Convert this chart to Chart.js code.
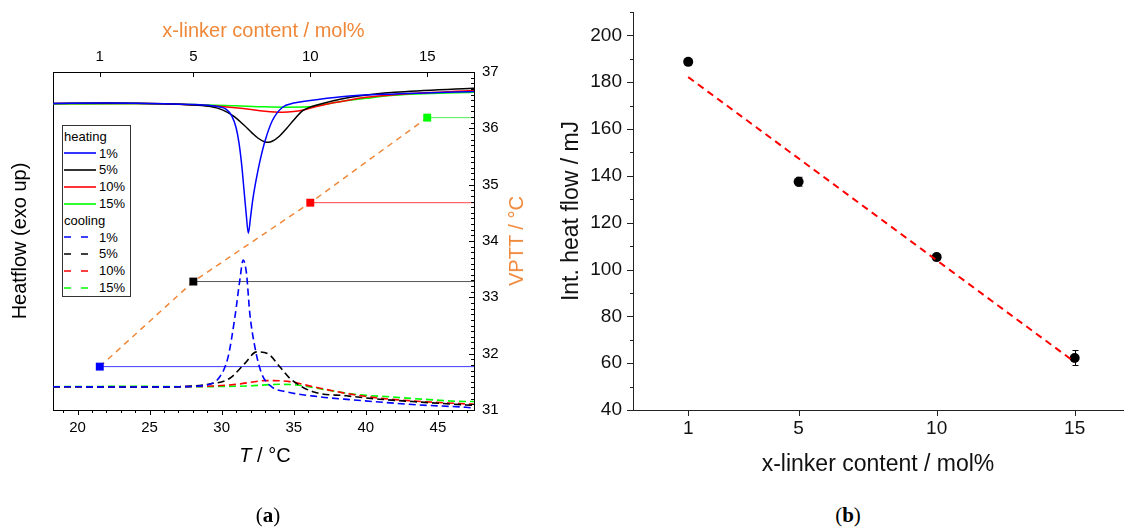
<!DOCTYPE html>
<html>
<head>
<meta charset="utf-8">
<script src="https://cdn.jsdelivr.net/npm/chart.js@4.4.1/dist/chart.umd.min.js"></script>
<style>
  body { margin: 0; background: #fff; width: 1128px; height: 528px; position: relative; overflow: hidden;
         font-family: 'Liberation Sans', Arial, sans-serif; color: #000; }
  canvas { position: absolute; top: 0; }
  #chartA { left: 0; }
  #chartB { left: 560px; }
  .lbl { position: absolute; white-space: nowrap; line-height: 1; }
  #legendA { position: absolute; left: 62px; top: 125px; width: 67px; padding-top: 2px; border: 1px solid #333;
             font-size: 13px; background: #fff; }
  #legendA .row { height: 16.8px; display: flex; align-items: center; }
  #legendA svg { margin-left: 1px; margin-right: 3px; }
  #legendA .head { padding-left: 1px; }
  .panel { font-family: 'Liberation Serif', 'DejaVu Serif', serif; font-size: 21px; transform: translate(-50%, -50%); }
</style>
</head>
<body>
<canvas id="chartA" width="560" height="480"></canvas>
<canvas id="chartB" width="568" height="480"></canvas>
<div id="legendA"></div>
<div class="lbl" style="left:265px;top:455px;font-size:20px;transform:translate(-50%,-50%)"><i>T</i> / °C</div>
<div class="lbl" id="vpttTitle" style="left:516px;top:241px;font-size:20px;color:#f0883a;transform:translate(-50%,-50%) rotate(-90deg)">VPTT / °C</div>
<div class="lbl panel" style="left:268px;top:515px">(<b>a</b>)</div>
<div class="lbl panel" style="left:848px;top:515px">(<b>b</b>)</div>
<script>
// ---- panel (a): DSC curves, T in °C, heat flow in arbitrary units (exo up)
const contentLabels = ["1%", "5%", "10%", "15%"];
const seriesColors = ["#0000ff", "#000000", "#ff0000", "#00ff00"];
const vpttLineColors = ["#3d3dff", "#555555", "#ff4444", "#55ee55"];
const orange = "#f0883a";

const heatT1 = [18.3, 22, 26, 28.5, 29.8, 30.3, 30.7, 31.0, 31.2, 31.4, 31.55, 31.7, 31.85, 32.0, 32.15, 32.3, 32.5, 32.7, 33.0, 33.5, 34.2, 35.0, 36.0, 38.3, 42.0, 47.5];
const heatH1 = [9.07, 9.08, 9.06, 9.03, 8.97, 8.9, 8.7, 8.35, 7.9, 7.2, 6.5, 5.8, 5.23, 5.7, 6.2, 6.6, 7.05, 7.45, 7.95, 8.55, 8.95, 9.08, 9.15, 9.27, 9.35, 9.42];
const heatT5 = [18.3, 22, 26, 28.06, 29.3, 30.05, 30.8, 31.54, 32.1, 32.53, 33.0, 33.23, 33.5, 34.0, 34.5, 35.0, 35.6, 36.2, 37.0, 38.3, 39.5, 42.0, 47.5];
const heatH5 = [9.07, 9.08, 9.06, 9.02, 8.97, 8.88, 8.7, 8.43, 8.2, 8.04, 7.93, 7.92, 7.95, 8.1, 8.33, 8.58, 8.85, 8.97, 9.07, 9.2, 9.29, 9.40, 9.52];
const heatT10 = [18.3, 24, 28.0, 30.0, 31.5, 33.0, 34.2, 35.0, 35.9, 36.5, 37.5, 38.3, 40.0, 42.0, 47.5];
const heatH10 = [9.07, 9.07, 9.03, 8.98, 8.92, 8.84, 8.81, 8.83, 8.9, 8.97, 9.07, 9.13, 9.25, 9.33, 9.45];
const heatT15 = [18.3, 24, 28, 31, 33, 34.5, 36.0, 37.5, 38.3, 40, 42, 47.5];
const heatH15 = [9.05, 9.06, 9.04, 9.0, 8.97, 8.96, 8.97, 9.07, 9.13, 9.22, 9.31, 9.40];

const coolT1 = [18.3, 24, 27.1, 28.96, 29.88, 30.45, 30.92, 31.26, 31.49, 31.72, 31.95, 32.3, 32.76, 33.45, 34.49, 36.8, 39.1, 41.41, 43.72, 46.95, 47.5];
const coolH1 = [0.69, 0.68, 0.69, 0.74, 0.99, 1.58, 2.76, 3.85, 4.44, 4.04, 2.86, 1.87, 1.09, 0.69, 0.54, 0.39, 0.30, 0.22, 0.15, 0.08, 0.06];
const coolT5 = [18.3, 24, 27.1, 29.18, 30.57, 31.61, 32.42, 33.22, 34.03, 34.72, 36.33, 38.65, 40.95, 43.25, 46.95, 47.5];
const coolH5 = [0.69, 0.68, 0.69, 0.77, 0.94, 1.38, 1.72, 1.66, 1.28, 0.94, 0.54, 0.42, 0.32, 0.25, 0.15, 0.14];
const coolT10 = [18.3, 24, 27.1, 29.41, 31.03, 33.11, 34.72, 36.33, 38.65, 40.95, 43.25, 46.95, 47.5];
const coolH10 = [0.69, 0.68, 0.69, 0.71, 0.76, 0.87, 0.84, 0.69, 0.49, 0.35, 0.27, 0.18, 0.17];
const coolT15 = [18.3, 24, 27.1, 31.72, 34.03, 35.19, 37.03, 39.34, 41.64, 43.95, 47.18, 47.5];
const coolH15 = [0.69, 0.70, 0.69, 0.71, 0.76, 0.74, 0.61, 0.46, 0.39, 0.32, 0.25, 0.25];

// VPTT vs x-linker content (top / right axes)
const linkerContent = [1, 5, 10, 15];
const vptt = [31.77, 33.28, 34.68, 36.19];

// ---- panel (b): integrated heat flow
const intHeat = [188.7, 137.5, 105.3, 62.2];
const intHeatErr = [1.2, 1.9, 1.0, 3.2];
const fitX = [1, 15];
const fitY = [182.2, 60.5];

// tick labels
const tempTicks = [20, 25, 30, 35, 40, 45];
const linkerTicks = [1, 5, 10, 15];
const vpttTicks = [31, 32, 33, 34, 35, 36, 37];
const intHeatTicks = [40, 60, 80, 100, 120, 140, 160, 180, 200];

const FONT = "'Liberation Sans', Arial, sans-serif";

function pts(xs, ys) {
  return xs.map((x, i) => ({ x: x, y: ys[i] }));
}
function range(a, b, step) {
  const out = [];
  const n = Math.round((b - a) / step);
  for (let i = 0; i <= n; i++) out.push(+(a + i * step).toFixed(4));
  return out;
}
function fixedTicks(values) {
  return function (scale) {
    scale.ticks = values.map(v => ({ value: v }));
  };
}

// tick marks drawn on the scales (major/minor, inward/outward)
const tickMarks = {
  id: "tickMarks",
  afterDraw(chart, args, opts) {
    const ctx = chart.ctx;
    ctx.save();
    ctx.strokeStyle = opts.color || "#000";
    ctx.lineWidth = 1;
    (opts.marks || []).forEach(m => {
      const s = chart.scales[m.axis];
      const pos = s.options.position;
      let base, sign;
      if (pos === "bottom") { base = s.top; sign = 1; }
      else if (pos === "top") { base = s.bottom; sign = -1; }
      else if (pos === "left") { base = s.right; sign = -1; }
      else { base = s.left; sign = 1; }
      const len = m.len * (m.inward ? -sign : sign);
      m.values.forEach(v => {
        if (v < s.min || v > s.max) return;
        const p = Math.round(s.getPixelForValue(v)) + 0.5;
        ctx.beginPath();
        if (s.isHorizontal()) {
          ctx.moveTo(p, base);
          ctx.lineTo(p, base + len);
        } else {
          ctx.moveTo(base, p);
          ctx.lineTo(base + len, p);
        }
        ctx.stroke();
      });
    });
    ctx.restore();
  }
};

const errorBars = {
  id: "errorBars",
  beforeDatasetsDraw(chart, args, opts) {
    const ds = chart.data.datasets[opts.datasetIndex];
    const xs = chart.scales.x, ys = chart.scales.y;
    const ctx = chart.ctx;
    ctx.save();
    ctx.strokeStyle = "#000";
    ctx.lineWidth = 1;
    ds.data.forEach((p, i) => {
      const x = Math.round(xs.getPixelForValue(p.x)) + 0.5;
      const y1 = ys.getPixelForValue(p.y + opts.errors[i]);
      const y2 = ys.getPixelForValue(p.y - opts.errors[i]);
      ctx.beginPath();
      ctx.moveTo(x, y1); ctx.lineTo(x, y2);
      ctx.moveTo(x - 3, y1); ctx.lineTo(x + 3, y1);
      ctx.moveTo(x - 3, y2); ctx.lineTo(x + 3, y2);
      ctx.stroke();
    });
    ctx.restore();
  }
};

const heatSets = [[heatT1, heatH1], [heatT5, heatH5], [heatT10, heatH10], [heatT15, heatH15]];
const coolSets = [[coolT1, coolH1], [coolT5, coolH5], [coolT10, coolH10], [coolT15, coolH15]];

const datasetsA = [];
heatSets.forEach((s, i) => {
  datasetsA.push({
    label: "heating " + contentLabels[i], data: pts(s[0], s[1]),
    xAxisID: "x", yAxisID: "y", borderColor: seriesColors[i], borderWidth: 1.5,
    pointRadius: 0, cubicInterpolationMode: "monotone", fill: false
  });
});
coolSets.forEach((s, i) => {
  datasetsA.push({
    label: "cooling " + contentLabels[i], data: pts(s[0], s[1]),
    xAxisID: "x", yAxisID: "y", borderColor: seriesColors[i], borderWidth: 1.6,
    borderDash: [7, 4], pointRadius: 0, cubicInterpolationMode: "monotone", fill: false
  });
});
// horizontal VPTT markers running to the right axis
linkerContent.forEach((c, i) => {
  datasetsA.push({
    label: "VPTT " + contentLabels[i], data: [{ x: c, y: vptt[i] }, { x: 17, y: vptt[i] }],
    xAxisID: "x2", yAxisID: "y2", borderColor: vpttLineColors[i], borderWidth: 1,
    pointStyle: "rect", pointRadius: [5.6, 0], pointBackgroundColor: seriesColors[i],
    pointBorderColor: seriesColors[i], pointBorderWidth: 0, fill: false, clip: 8
  });
});
datasetsA.push({
  label: "VPTT trend", data: pts(linkerContent, vptt),
  xAxisID: "x2", yAxisID: "y2", borderColor: orange, borderWidth: 1.5,
  borderDash: [6, 5], pointRadius: 0, fill: false
});

const titleFont = { family: FONT, size: 20, lineHeight: 1.2 };
const tickFontA = { family: FONT, size: 15 };

new Chart(document.getElementById("chartA"), {
  type: "line",
  data: { datasets: datasetsA },
  options: {
    responsive: false,
    animation: false,
    layout: { padding: 0 },
    plugins: {
      legend: { display: false },
      tooltip: { enabled: false },
      tickMarks: {
        marks: [
          { axis: "x", values: tempTicks, len: 5 },
          { axis: "x", values: range(19, 47, 1), len: 3 },
          { axis: "x2", values: linkerTicks, len: 5, inward: true },
          { axis: "y2", values: vpttTicks, len: 5, inward: true },
          { axis: "y2", values: range(31.1, 36.9, 0.1), len: 3, inward: true }
        ]
      }
    },
    scales: {
      x: {
        type: "linear", position: "bottom", min: 18.3, max: 47.5,
        afterBuildTicks: fixedTicks(tempTicks),
        ticks: { font: tickFontA, color: "#000", padding: 9 },
        grid: { drawOnChartArea: false, drawTicks: false },
        border: { color: "#000", width: 1 },
        afterFit: s => { s.height = 70; }
      },
      x2: {
        type: "linear", position: "top", min: -1, max: 17,
        afterBuildTicks: fixedTicks(linkerTicks),
        ticks: { font: tickFontA, color: "#000", padding: 6 },
        grid: { drawOnChartArea: false, drawTicks: false },
        border: { color: "#000", width: 1 },
        title: { display: true, text: "x-linker content / mol%", color: orange, font: titleFont, padding: { top: 19, bottom: 0 } },
        afterFit: s => { s.height = 72; }
      },
      y: {
        type: "linear", position: "left", min: 0, max: 10,
        ticks: { display: false },
        grid: { drawOnChartArea: false, drawTicks: false },
        border: { color: "#000", width: 1 },
        title: { display: true, text: "Heatflow (exo up)", color: "#000", font: titleFont, padding: { top: 8, bottom: 0 } },
        afterFit: s => { s.width = 53; }
      },
      y2: {
        type: "linear", position: "right", min: 31, max: 37,
        afterBuildTicks: fixedTicks(vpttTicks),
        ticks: { font: tickFontA, color: "#000", padding: 8 },
        grid: { drawOnChartArea: false, drawTicks: false },
        border: { color: "#000", width: 1 },
        afterFit: s => { s.width = 86; }
      }
    }
  },
  plugins: [tickMarks]
});

// legend for panel (a)
const legendA = document.getElementById("legendA");
function legendRow(label, color, dashed) {
  const row = document.createElement("div");
  row.className = "row";
  const dash = dashed ? ' stroke-dasharray="7 10"' : "";
  row.innerHTML = '<svg width="32" height="4"><line x1="0" y1="2" x2="32" y2="2" stroke="' + color +
    '" stroke-width="1.6"' + dash + '/></svg><span>' + label + "</span>";
  legendA.appendChild(row);
}
function legendHead(text) {
  const row = document.createElement("div");
  row.className = "row head";
  row.textContent = text;
  legendA.appendChild(row);
}
legendHead("heating");
contentLabels.forEach((l, i) => legendRow(l, seriesColors[i], false));
legendHead("cooling");
contentLabels.forEach((l, i) => legendRow(l, seriesColors[i], true));

// ---- panel (b)
const tickFontB = { family: FONT, size: 19 };
new Chart(document.getElementById("chartB"), {
  type: "line",
  data: {
    datasets: [
      {
        label: "fit", data: pts(fitX, fitY), borderColor: "#ff0000", borderWidth: 2,
        borderDash: [7, 5], pointRadius: 0, fill: false
      },
      {
        label: "Int. heat flow", data: pts(linkerContent, intHeat), showLine: false,
        pointRadius: 5, pointBackgroundColor: "#000", pointBorderColor: "#000", pointBorderWidth: 0
      }
    ]
  },
  options: {
    responsive: false,
    animation: false,
    layout: { padding: 0 },
    plugins: {
      legend: { display: false },
      tooltip: { enabled: false },
      errorBars: { datasetIndex: 1, errors: intHeatErr },
      tickMarks: {
        color: "#222",
        marks: [
          { axis: "y", values: intHeatTicks, len: 6 },
          { axis: "y", values: range(50, 210, 20), len: 3 },
          { axis: "x", values: linkerTicks, len: 6 }
        ]
      }
    },
    scales: {
      x: {
        type: "linear", position: "bottom", min: -1, max: 16.75,
        afterBuildTicks: fixedTicks(linkerTicks),
        ticks: { font: tickFontB, color: "#111", padding: 7 },
        grid: { drawOnChartArea: false, drawTicks: false },
        border: { color: "#222", width: 1 },
        title: { display: true, text: "x-linker content / mol%", color: "#111",
                 font: { family: FONT, size: 23, lineHeight: 1.2 }, padding: { top: 0, bottom: 2 } },
        afterFit: s => { s.height = 70; s.paddingRight = 0; }
      },
      y: {
        type: "linear", position: "left", min: 40, max: 210,
        afterBuildTicks: fixedTicks(intHeatTicks),
        ticks: { font: tickFontB, color: "#111", padding: 11 },
        grid: { drawOnChartArea: false, drawTicks: false },
        border: { color: "#222", width: 1 },
        title: { display: true, text: "Int. heat flow / mJ", color: "#111",
                 font: { family: FONT, size: 23, lineHeight: 1 }, padding: { top: 0, bottom: 0 } },
        afterFit: s => { s.width = 73; s.paddingTop = 12; }
      }
    }
  },
  plugins: [tickMarks, errorBars]
});
</script>
</body>
</html>
